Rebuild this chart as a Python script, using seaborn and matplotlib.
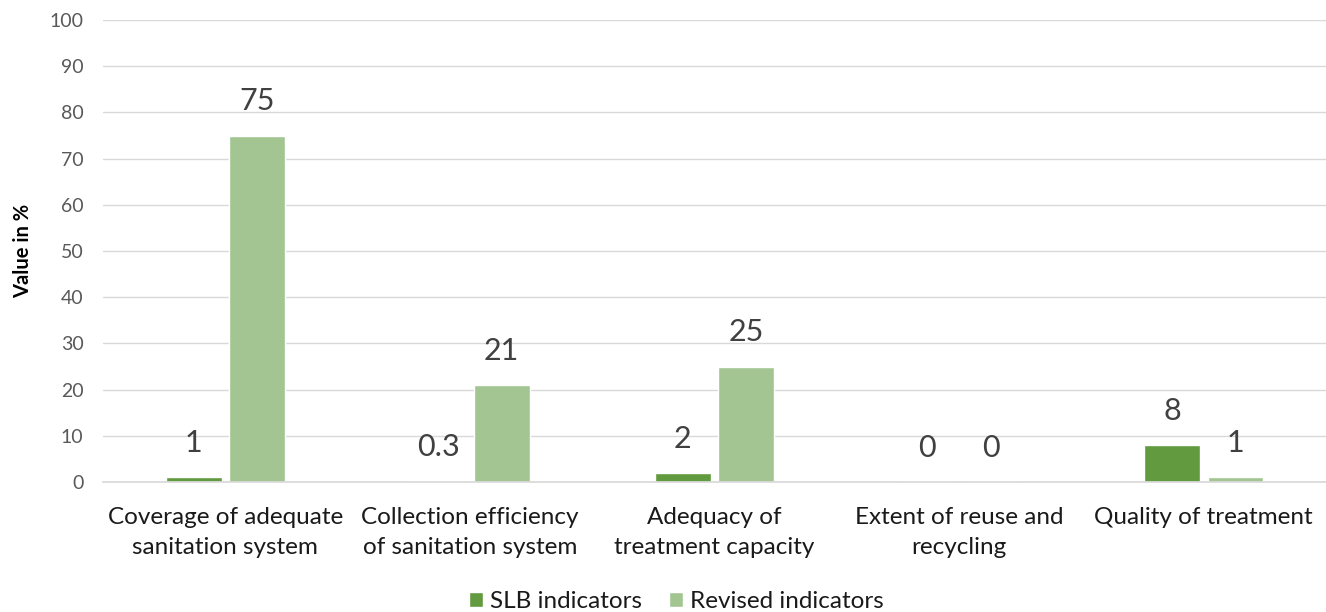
import matplotlib
matplotlib.use("Agg")
import matplotlib.pyplot as plt
import seaborn as sns
import pandas as pd

categories = [
    "Coverage of adequate\nsanitation system",
    "Collection efficiency\nof sanitation system",
    "Adequacy of\ntreatment capacity",
    "Extent of reuse and\nrecycling",
    "Quality of treatment",
]
series_names = ["SLB indicators", "Revised indicators"]
slb_values = [1, 0.3, 2, 0, 8]
revised_values = [75, 21, 25, 0, 1]
y_ticks = list(range(0, 101, 10))

colors = {"SLB indicators": "#629A3F", "Revised indicators": "#A2C591"}

df = pd.DataFrame({
    "category": categories * 2,
    "series": [series_names[0]] * len(categories) + [series_names[1]] * len(categories),
    "value": slb_values + revised_values,
})

sns.set_theme(style="white")
plt.rcParams["font.family"] = ["Lato", "DejaVu Sans"]

fig = plt.figure(figsize=(13.26, 6.12), dpi=100)
ax = fig.add_axes([0.0777, 0.2124, 0.9223, 0.7549])

sns.barplot(data=df, x="category", y="value", hue="series", order=categories,
            hue_order=series_names, palette=colors, width=0.52, gap=0.12,
            ax=ax, legend=True, saturation=1, errorbar=None)

ax.set_xlim(-0.5, len(categories) - 0.5)
ax.set_ylim(0, 100)
ax.set_yticks(y_ticks)
ax.yaxis.grid(True, color="#D9D9D9", linewidth=1)
ax.set_axisbelow(True)
for s in ["top", "right", "left"]:
    ax.spines[s].set_visible(False)
ax.spines["bottom"].set_color("#D9D9D9")
ax.tick_params(axis="both", length=0, colors="#595959", labelsize=14)
ax.tick_params(axis="y", pad=14)
ax.tick_params(axis="x", pad=18)
for t in ax.get_xticklabels():
    t.set_fontsize(17.5)
    t.set_color("#1a1a1a")
    t.set_linespacing(1.5)
ax.set_xlabel("")
ax.set_ylabel("Value in %", fontsize=14.5, fontweight="bold", color="#000000", labelpad=12)

for container, vals in zip(ax.containers, [slb_values, revised_values]):
    for patch, v in zip(container.patches, vals):
        x = patch.get_x() + patch.get_width() / 2
        ax.annotate(f"{v:g}", (x, patch.get_height()), xytext=(0, 24.5),
                    textcoords="offset points", ha="center", va="center",
                    fontsize=22, color="#404040")

leg = ax.legend(loc="center", bbox_to_anchor=(0.51, 0.017),
                bbox_transform=fig.transFigure, ncol=2,
                frameon=False, fontsize=17.5, handlelength=0.58, handleheight=0.58,
                handletextpad=0.3, columnspacing=1.1, borderpad=0.1)
for t in leg.get_texts():
    t.set_color("#1a1a1a")

fig.savefig("out.png", dpi=100)
